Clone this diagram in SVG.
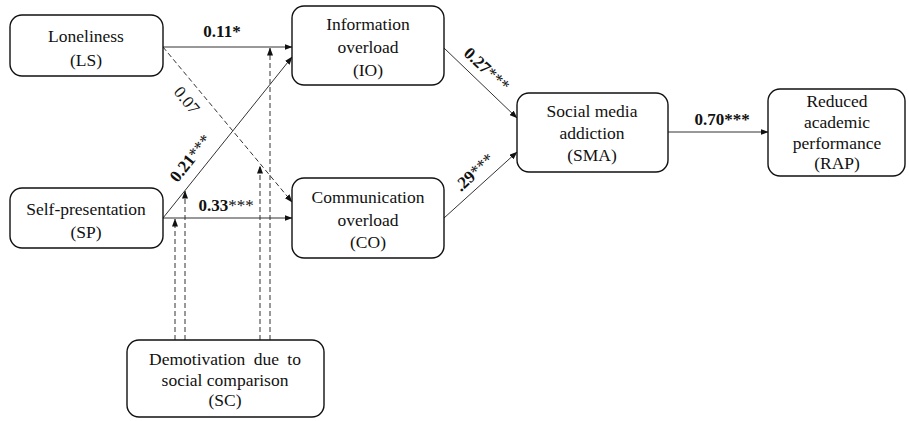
<svg xmlns="http://www.w3.org/2000/svg" width="909" height="421" viewBox="0 0 909 421">
<defs>
<marker id="ah" markerWidth="8" markerHeight="6" refX="7.5" refY="3" orient="auto" markerUnits="userSpaceOnUse">
<path d="M0,0 L8,3 L0,6 Z" fill="#111"/>
</marker>
<style>
.box{fill:#fff;stroke:#111;stroke-width:1.4}
.t{font-family:"Liberation Serif","Times New Roman",serif;font-size:17.5px;fill:#111;text-anchor:middle}
.c{stroke:#333;stroke-width:1;fill:none}
.a{marker-end:url(#ah)}
.d{stroke-dasharray:5,3}
.lb{font-family:"Liberation Serif","Times New Roman",serif;font-size:17px;font-weight:bold;fill:#111;text-anchor:middle}
.st{font-weight:normal}
</style>
</defs>
<rect width="909" height="421" fill="#fff"/>
<g id="connectors">
<line class="c a" x1="163" y1="47" x2="292" y2="47"/>
<line class="c a d" x1="163" y1="47" x2="292" y2="202"/>
<line class="c a" x1="163" y1="218" x2="292" y2="57"/>
<line class="c a" x1="163" y1="218" x2="292" y2="218"/>
<line class="c a" x1="444" y1="48" x2="517" y2="118"/>
<line class="c a" x1="444" y1="218" x2="517" y2="152"/>
<line class="c a" x1="668" y1="132" x2="768" y2="132"/>
<line class="c a d" x1="175" y1="340" x2="175" y2="219"/>
<line class="c a d" x1="185" y1="340" x2="185" y2="191"/>
<line class="c a d" x1="260" y1="340" x2="260" y2="166"/>
<line class="c a d" x1="270" y1="340" x2="270" y2="48"/>
<text class="lb" x="222" y="37">0.11*</text>
<text class="lb" x="226" y="211">0.33<tspan class="st">***</tspan></text>
<text class="lb" x="722" y="125">0.70***</text>
<text class="lb st" transform="translate(187,100) rotate(50.5)" x="0" y="6">0.07</text>
<text class="lb" transform="translate(190,158) rotate(-51.3)" x="0" y="6">0.21<tspan class="st">***</tspan></text>
<text class="lb" transform="translate(487,69) rotate(43)" x="0" y="6">0.27<tspan class="st">***</tspan></text>
<text class="lb" transform="translate(474,172) rotate(-43)" x="0" y="6">.29<tspan class="st">***</tspan></text>
</g>
<g id="LS">
<rect class="box" x="10" y="15" width="153" height="61" rx="12"/>
<text class="t" x="86" y="42">Loneliness</text>
<text class="t" x="86" y="66">(LS)</text>
</g>
<g id="IO">
<rect class="box" x="292" y="6" width="152" height="79" rx="12"/>
<text class="t" x="368" y="30">Information</text>
<text class="t" x="368" y="53">overload</text>
<text class="t" x="368" y="76">(IO)</text>
</g>
<g id="SP">
<rect class="box" x="10" y="188" width="153" height="60" rx="12"/>
<text class="t" x="86" y="215">Self-presentation</text>
<text class="t" x="86" y="238">(SP)</text>
</g>
<g id="CO">
<rect class="box" x="292" y="178" width="152" height="80" rx="12"/>
<text class="t" x="368" y="203">Communication</text>
<text class="t" x="368" y="226">overload</text>
<text class="t" x="368" y="248">(CO)</text>
</g>
<g id="SMA">
<rect class="box" x="517" y="93" width="151" height="79" rx="12"/>
<text class="t" x="592" y="117">Social media</text>
<text class="t" x="592" y="139">addiction</text>
<text class="t" x="592" y="161">(SMA)</text>
</g>
<g id="RAP">
<rect class="box" x="768" y="89" width="137" height="87" rx="12"/>
<text class="t" x="837" y="107">Reduced</text>
<text class="t" x="837" y="128">academic</text>
<text class="t" x="837" y="149">performance</text>
<text class="t" x="837" y="169">(RAP)</text>
</g>
<g id="SC">
<rect class="box" x="127" y="340" width="197" height="77" rx="12"/>
<text class="t" x="225" y="365" word-spacing="4">Demotivation due to</text>
<text class="t" x="225" y="386">social comparison</text>
<text class="t" x="225" y="406">(SC)</text>
</g>
</svg>
